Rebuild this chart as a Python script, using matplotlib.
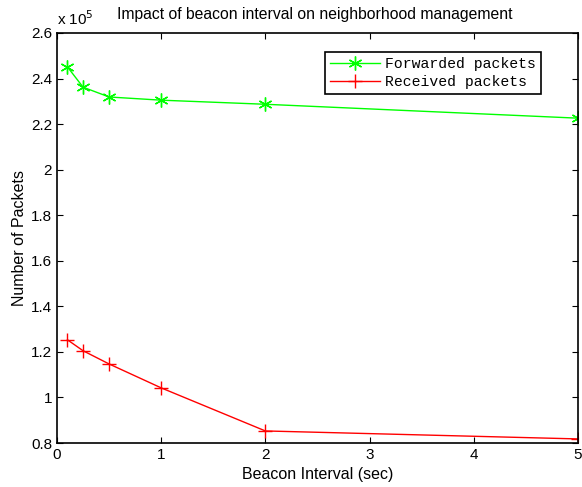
import matplotlib.pyplot as plt
import numpy as np
from matplotlib.ticker import FuncFormatter

plt.rcParams['font.family'] = ['Liberation Sans', 'DejaVu Sans']

beacon_interval = [0.1, 0.25, 0.5, 1, 2, 5]
forwarded = [245100, 236200, 231900, 230500, 228700, 222600]
received = [125300, 120500, 114700, 104200, 85300, 81800]

fig = plt.figure(figsize=(5.82, 4.87), dpi=100)
ax = fig.add_axes([0.098, 0.0903, 0.895, 0.842])

scale = 1e5
# MATLAB-like asterisk marker
ax.plot(beacon_interval, np.array(forwarded) / scale, color=(0, 1, 0), marker=(6, 2, 0),
        markersize=10, markeredgewidth=1, linewidth=1, label="Forwarded packets")
ax.plot(beacon_interval, np.array(received) / scale, color=(1, 0, 0), marker='+',
        markersize=10, markeredgewidth=1, linewidth=1, label="Received packets")

ax.set_xlim(0, 5)
ax.set_ylim(0.8, 2.6)
ax.set_xticks(np.arange(0, 6, 1))
ax.set_yticks(np.arange(0.8, 2.61, 0.2))
ax.yaxis.set_major_formatter(FuncFormatter(lambda v, p: "%g" % round(v, 1)))
ax.tick_params(direction='in', top=True, right=True, labelsize=11, length=4)
for s in ax.spines.values():
    s.set_linewidth(1.2)

ax.set_xlabel("Beacon Interval (sec)", fontsize=11.5, labelpad=4)
ax.set_ylabel("Number of Packets", fontsize=11.5, labelpad=3)
ax.set_title("Impact of beacon interval on neighborhood management", fontsize=11.3, pad=10, x=0.495)
ax.text(0.0, 1.012, r"x 10$^5$", transform=ax.transAxes, fontsize=11, ha='left', va='bottom')

leg = ax.legend(loc='upper right', bbox_to_anchor=(0.929, 0.954), borderaxespad=0,
                fancybox=False, edgecolor='black', framealpha=1,
                prop={'family': 'Liberation Mono', 'size': 10.6},
                handlelength=3.4, handletextpad=0.35, borderpad=0.35, labelspacing=0.25)
leg.get_frame().set_linewidth(1.2)

fig.savefig("out.png", dpi=100)
